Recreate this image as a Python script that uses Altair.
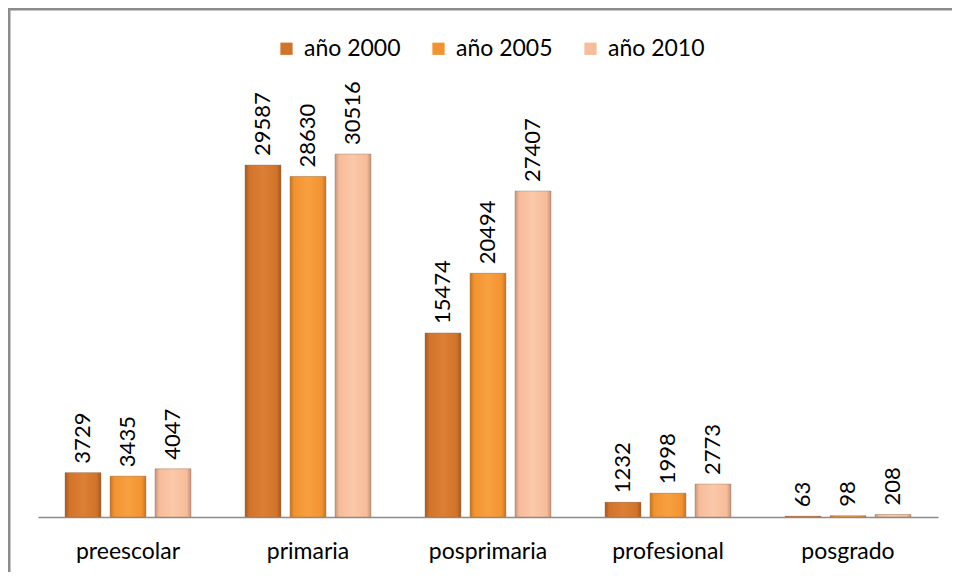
import altair as alt
import pandas as pd

categories = ["preescolar", "primaria", "posprimaria", "profesional", "posgrado"]
series = ["año 2000", "año 2005", "año 2010"]
v2000 = [3729, 29587, 15474, 1232, 63]
v2005 = [3435, 28630, 20494, 1998, 98]
v2010 = [4047, 30516, 27407, 2773, 208]
colors = ["#d2732a", "#f39330", "#f7bc99"]
edges = ["#a8561c", "#c8741f", "#c9937a"]
lights = ["#db8034", "#f7a040", "#fac8aa"]

rows = []
for s, vals in zip(series, [v2000, v2005, v2010]):
    for c, v in zip(categories, vals):
        rows.append({"cat": c, "serie": s, "valor": v})
df = pd.DataFrame(rows)

W, H = 944, 564
X0, X1 = 30, 930
BASE = 509
FONT = "Lato"

xscale = alt.Scale(paddingInner=0.25, paddingOuter=0.125, range=[X0, X1])
x = alt.X("cat:N", sort=categories, title=None, scale=xscale,
          axis=alt.Axis(labelAngle=0, labelFontSize=23, labelColor="#000000",
                        labelFont=FONT, labelPadding=23, ticks=False,
                        offset=-(H - BASE),
                        domainColor="#8c8c8c", domainWidth=1.5, grid=False))
xo = alt.XOffset("serie:N", sort=series,
                 scale=alt.Scale(paddingInner=0.2, paddingOuter=0.1))
y = alt.Y("valor:Q", scale=alt.Scale(domain=[-4624, 42791], nice=False, zero=False),
          axis=None)
y0 = alt.Y2(datum=0)

bars = alt.Chart(df).mark_bar().encode(
    x=x, xOffset=xo, y=y, y2=y0,
    color=alt.Color("serie:N", sort=series,
                    scale=alt.Scale(domain=series, range=colors),
                    legend=alt.Legend(title=None, orient="none", direction="horizontal",
                                      legendX=267, legendY=29, symbolType="square",
                                      symbolSize=150, symbolStrokeWidth=0,
                                      labelFontSize=23, labelFont=FONT,
                                      labelColor="#000000", columnPadding=26,
                                      labelOffset=6)),
)

overlays = []
for s, c, e, l in zip(series, colors, edges, lights):
    grad = alt.LinearGradient(
        gradient="linear", x1=0, x2=1, y1=0, y2=0,
        stops=[alt.GradientStop(offset=0, color=e),
               alt.GradientStop(offset=0.12, color=c),
               alt.GradientStop(offset=0.5, color=l),
               alt.GradientStop(offset=0.88, color=c),
               alt.GradientStop(offset=1, color=e)])
    overlays.append(
        alt.Chart(df).transform_filter(alt.datum.serie == s)
        .mark_bar(color=grad, stroke="#8a7a70", strokeWidth=0.8, strokeOpacity=0.5)
        .encode(x=alt.X("cat:N", sort=categories), xOffset=xo, y=y, y2=y0)
    )

labels = alt.Chart(df).mark_text(angle=270, align="left", baseline="middle",
                                 dx=9, fontSize=22, font=FONT, color="#000000").encode(
    x=alt.X("cat:N", sort=categories), xOffset=xo, y=y,
    text=alt.Text("valor:Q", format="d"),
)

# chart frame: left and top edges as thin stroked strips
frame = pd.DataFrame({"fx1": [1, 1], "fx2": [1.5, W + 40],
                      "fy1": [1, 1], "fy2": [H + 40, 1.5]})
border = alt.Chart(frame).mark_rect(fill="#8c8c8c", stroke="#8c8c8c", strokeWidth=2).encode(
    x=alt.X("fx1:Q", scale=None), x2="fx2:Q",
    y=alt.Y("fy1:Q", scale=None), y2="fy2:Q")

chart = alt.layer(border, bars, *overlays, labels).properties(
    width=W, height=H,
    autosize=alt.AutoSizeParams(type="none"),
    padding=0,
).configure(font=FONT).configure_view(strokeWidth=0, stroke="transparent")

chart.save("out.html", embed_options={"renderer": "svg", "actions": False})
